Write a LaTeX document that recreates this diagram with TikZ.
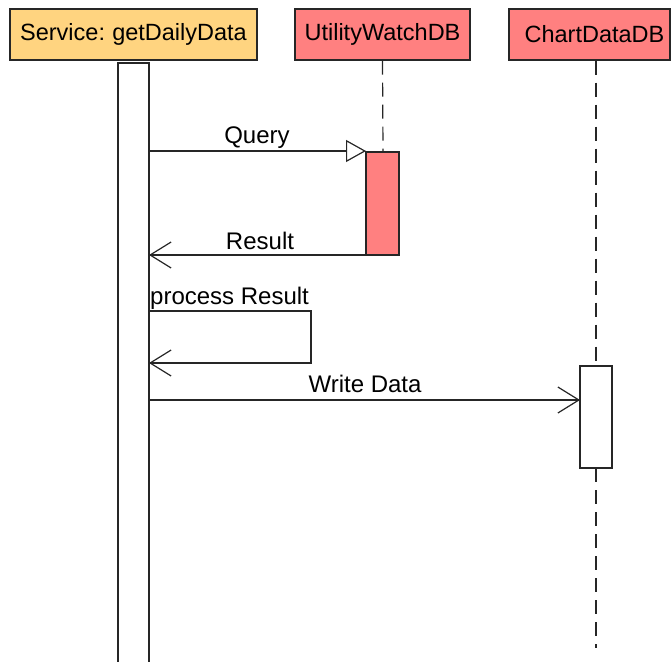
\documentclass[tikz,border=0pt]{standalone}
\usepackage{fontspec}
\setmainfont{Liberation Sans}
\usetikzlibrary{arrows.meta,calc}
\definecolor{svcorange}{RGB}{255,212,128}
\definecolor{dbred}{RGB}{255,128,128}
\tikzset{
  head/.style={draw=black!85,line width=1.4pt,minimum height=51pt,inner sep=0pt,font=\fontsize{23.5}{26}\selectfont},
  bar/.style={draw=black!85,line width=1.4pt},
  msg/.style={draw=black!85,line width=1.2pt},
  life/.style={draw=black!85,line width=1.2pt,dash pattern=on 14pt off 8pt},
  opentip/.style={-{Triangle[open,length=20pt,width=22pt,line width=1.2pt]}},
  barbtip/.style={-{Straight Barb[length=21pt,width=26pt,line width=1.2pt]}},
  lbl/.style={font=\fontsize{24}{27}\selectfont,inner sep=1pt,anchor=base}
}
\begin{document}
\begin{tikzpicture}[x=1pt,y=-1pt]
\useasboundingbox (0,0) rectangle (671,661);

% heads
\node[head,fill=svcorange,minimum width=247pt] (svc) at (133.5,34.5) {Service:\hspace{-1.5pt} getDailyData};
\node[head,fill=dbred,minimum width=175pt] (uwdb) at (382.5,34.5) {UtilityWatchDB};
\node[head,fill=dbred,minimum width=161pt] (cddb) at (589.5,34.5) {\hspace{10pt}ChartDataDB};

% activation bars
\filldraw[bar,fill=white] (118,63) rectangle (149,664);
\filldraw[bar,fill=dbred] (366,152) rectangle (399,255);
\filldraw[bar,fill=white] (580,366) rectangle (612,468);

% lifelines
\draw[life] (uwdb.south) -- (383,152);
\draw[life] (596,0 |- cddb.south) -- (596,366);
\draw[life] (596,468) -- (596,648);

\coordinate (q1) at (149,151);
\coordinate (q2) at (366,151);
\coordinate (r1) at (366,255);
\coordinate (r2) at (149,255);
\coordinate (p1) at (149,311);
\coordinate (p2) at (311,363);
\coordinate (p3) at (149,363);
\coordinate (w1) at (149,400);
\coordinate (w2) at (580,400);

\draw[msg,opentip] (q1) -- (q2);
\draw[msg,barbtip] (r1) -- (r2);
\draw[msg,barbtip] (p1) -| (p2) -- (p3);
\draw[msg,barbtip] (w1) -- (w2);

\node[lbl] (qlbl) at (257,143) {Query};
\node[lbl] (rlbl) at (260,249) {Result};
\node[lbl,anchor=base west] (plbl) at (149,304) {process Result};
\node[lbl] (wlbl) at (365,392) {Write Data};

\end{tikzpicture}
\end{document}
